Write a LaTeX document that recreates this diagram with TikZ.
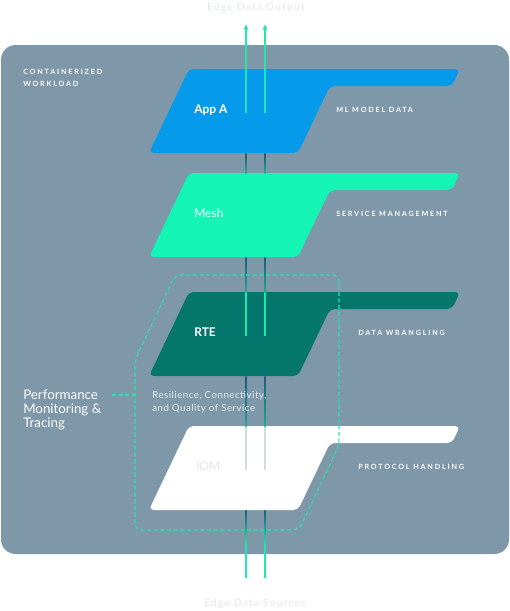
\documentclass[tikz,border=0pt]{standalone}
\usepackage{fontspec}
\setmainfont{Lato}
\newfontfamily\trackfont[LetterSpace=25]{Lato}
\newfontfamily\edgefont[LetterSpace=12]{Lato}
\newfontfamily\notefont[LetterSpace=5]{Lato}
\usepackage{tikz}
\usetikzlibrary{arrows.meta, calc}
\definecolor{stackSlate}{HTML}{7E97A9}
\definecolor{stackBlue}{HTML}{069BEA}
\definecolor{stackMint}{HTML}{14F4B5}
\definecolor{stackTeal}{HTML}{05766B}
\definecolor{wireMint}{HTML}{22E6B0}
\definecolor{wireDark}{HTML}{1D5A78}
\definecolor{wireTeal}{HTML}{1FA896}
\definecolor{iomWire}{HTML}{D3DAE0}
\definecolor{paleText}{HTML}{E4EAEE}
\definecolor{ghostText}{HTML}{E2E6E9}

\begin{document}
\begin{tikzpicture}[
  x=0.75pt, y=-0.75pt,
  every node/.style={inner sep=0pt, font=\fontsize{9}{10}\selectfont},
  layer/.style={fill=#1, rounded corners=3.5pt},
  layername/.style={anchor=base west, text=#1, font=\fontsize{9}{10}\selectfont\bfseries},
  tracklabel/.style={anchor=base west, text=white, align=left,
    font=\trackfont\bfseries\fontsize{5.4}{9}\selectfont},
  wire/.style={draw=#1, line width=1pt},
  wirefade/.style={top color=wireDark, bottom color=#1},
  tracing/.style={draw=wireMint, line width=0.8pt, dash pattern=on 3pt off 2pt},
  edgelabel/.style={anchor=base, text=ghostText,
    font=\edgefont\fontsize{7.7}{9}\selectfont},
]
\useasboundingbox (0,0) rectangle (510,611);

% === CONTAINER ===
\fill[stackSlate, rounded corners=11pt] (1,45) rectangle (509,554);
\node[tracklabel] (cw-label) at (23,86.5) {CONTAINERIZED\\WORKLOAD};

% === LAYERS ===
\foreach \n/\t/\c/\w in {app/69/stackBlue/wireMint, mesh/173/stackMint/stackMint,
    rte/292/stackTeal/wireMint, iom/426/white/iomWire} {
  \fill[layer=\c] (149,\t+84) -- (189,\t) -- (460,\t) -- (452,\t+17)
    -- (330,\t+17) -- (298,\t+84) -- cycle;
  \coordinate (\n-l-top) at (246,\t);
  \coordinate (\n-r-top) at (265,\t);
  \coordinate (\n-l-mid) at (246,\t+44);
  \coordinate (\n-r-mid) at (265,\t+44);
  \coordinate (\n-l-bot) at (246,\t+84);
  \coordinate (\n-r-bot) at (265,\t+84);
  \draw[wire=\w] (\n-l-top) -- (\n-l-mid);
  \draw[wire=\w] (\n-r-top) -- (\n-r-mid);
}

% Wires between layers
\foreach \a/\b in {app/mesh, mesh/rte, rte/iom} {
  \foreach \s in {l, r} {
    \shade[wirefade=wireTeal] ($(\a-\s-bot)+(-0.65,0)$) rectangle ($(\b-\s-top)+(0.65,0)$);
  }
}

% Data sources in
\coordinate (src-l) at (246,578);
\coordinate (src-r) at (265,578);
\coordinate (fade-l) at (246,545);
\coordinate (fade-r) at (265,545);
\draw[wire=wireMint] (iom-l-bot) -- (src-l);
\draw[wire=wireMint] (iom-r-bot) -- (src-r);
\shade[wirefade=wireMint] ($(iom-l-bot)+(-0.65,0)$) rectangle ($(fade-l)+(0.65,0)$);
\shade[wirefade=wireMint] ($(iom-r-bot)+(-0.65,0)$) rectangle ($(fade-r)+(0.65,0)$);

% Data output
\coordinate (out-l) at (246,24);
\coordinate (out-r) at (265,24);
\draw[wire=wireMint, -{Latex[length=4pt, width=4pt]}] (app-l-mid) -- (out-l);
\draw[wire=wireMint, -{Latex[length=4pt, width=4pt]}] (app-r-mid) -- (out-r);

% Layer names
\node[layername=white] (app-name) at (194,113) {App A};
\node[layername=white, font=\fontsize{9}{10}\selectfont] (mesh-name) at (194,217) {Mesh};
\node[layername=white] (rte-name) at (194,336) {RTE};
\node[layername=ghostText, font=\fontsize{9}{10}\selectfont] (iom-name) at (196,470) {IOM};

% Right labels
\node[tracklabel] (app-role) at (336,112.5) {ML MODEL DATA};
\node[tracklabel] (mesh-role) at (336,216.5) {SERVICE MANAGEMENT};
\node[tracklabel] (rte-role) at (358,335.5) {DATA WRANGLING};
\node[tracklabel] (iom-role) at (358,469.5) {PROTOCOL HANDLING};

% === TRACING ===
\draw[tracing, rounded corners=5pt] (135,530) -- (135,360) -- (175,275) -- (339,275)
  -- (339,445) -- (299,530) -- cycle;
\coordinate (trace-edge) at (135,395);
\coordinate (perf-tie) at (112,395);
\draw[tracing] (perf-tie) -- (trace-edge);
\node[anchor=base west, align=left, text=white, font=\fontsize{10}{10.5}\selectfont]
  (perf-label) at (23,427) {Performance\\Monitoring \&\\Tracing};
\node[anchor=base west, align=left, text=paleText, font=\notefont\fontsize{7.3}{9.4}\selectfont]
  (qos-note) at (152,411.5) {Resilience, Connectivity,\\and Quality of Service};

% Edge labels
\node[edgelabel] (out-label) at (256,10) {Edge Data Output};
\node[edgelabel] (src-label) at (255,606.5) {Edge Data Sources};

\end{tikzpicture}
\end{document}
